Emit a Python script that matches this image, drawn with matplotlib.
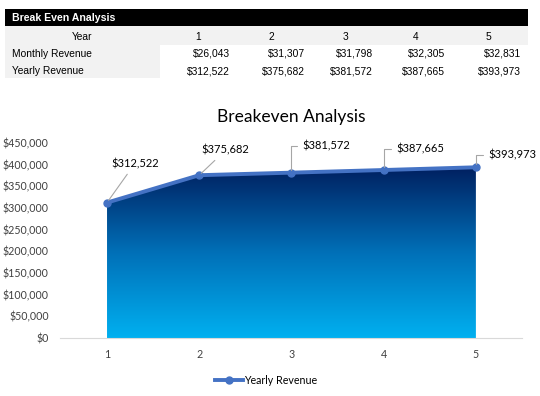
import numpy as np
import matplotlib
matplotlib.use('Agg')
import matplotlib.pyplot as plt
from matplotlib.colors import LinearSegmentedColormap
from matplotlib.patches import Rectangle
from matplotlib.ticker import FuncFormatter

years = [1, 2, 3, 4, 5]
monthly_revenue = [26043, 31307, 31798, 32305, 32831]
yearly_revenue = [312522, 375682, 381572, 387665, 393973]
row_labels = ['Year', 'Monthly Revenue', 'Yearly Revenue']

W, H = 540, 396
fig = plt.figure(figsize=(W / 100, H / 100), dpi=100)


def fx(px):
    return px / W


def fy(py):
    return 1 - py / H


# ---- table on top ----
table_font = ['Liberation Sans', 'DejaVu Sans']
tsize = 7.4
fig.patches.append(Rectangle((fx(5), fy(26)), fx(523), 17 / H, transform=fig.transFigure,
                             facecolor='black', edgecolor='none'))
fig.patches.append(Rectangle((fx(5), fy(45)), fx(523), 19 / H, transform=fig.transFigure,
                             facecolor='#f2f2f2', edgecolor='none'))
fig.patches.append(Rectangle((fx(5), fy(78)), fx(155), 33 / H, transform=fig.transFigure,
                             facecolor='#f2f2f2', edgecolor='none'))
fig.text(fx(12), fy(18), 'Break Even Analysis', color='white', fontweight='bold',
         fontsize=7.6, family=table_font, va='center', ha='left')

col_centers = [198, 271, 345, 416, 488]
col_rights = [230, 305, 373, 445, 521]
row_y = [37, 54, 71]

fig.text(fx(82), fy(row_y[0]), row_labels[0], fontsize=tsize, family=table_font, ha='center', va='center')
for lbl, y in zip(row_labels[1:], row_y[1:]):
    fig.text(fx(12), fy(y), lbl, fontsize=tsize, family=table_font, ha='left', va='center')
for i, yr in enumerate(years):
    fig.text(fx(col_centers[i]), fy(row_y[0]), str(yr), fontsize=tsize, family=table_font,
             ha='center', va='center')
    fig.text(fx(col_rights[i]), fy(row_y[1]), f'${monthly_revenue[i]:,}', fontsize=tsize,
             family=table_font, ha='right', va='center')
    fig.text(fx(col_rights[i]), fy(row_y[2]), f'${yearly_revenue[i]:,}', fontsize=tsize,
             family=table_font, ha='right', va='center')

# ---- chart ----
chart_font = ['Lato', 'DejaVu Sans']
ax = fig.add_axes([fx(60), fy(338), fx(462), 195 / H])

# gradient area
cmap = LinearSegmentedColormap.from_list('grad', ['#00b0f0', '#0070b8', '#002060'])
fill = ax.fill_between(years, 0, yearly_revenue, facecolor='none', edgecolor='none')
grad = np.linspace(0, 1, 256).reshape(-1, 1)
img = ax.imshow(grad, cmap=cmap, aspect='auto', origin='lower',
                extent=[years[0], years[-1], 0, max(yearly_revenue)], zorder=1)
img.set_clip_path(fill.get_paths()[0], transform=ax.transData)
ax.set_xlim(0.49, 5.5)
ax.set_ylim(0, 450000)

ax.plot(years, yearly_revenue, color='#4472c4', lw=2.8, marker='o', markersize=5,
        zorder=3, label='Yearly Revenue')

# data labels
offsets = [(20, 28), (19, 18), (8, 19), (9, 15), (9, 9)]
for i, (x, y) in enumerate(zip(years, yearly_revenue)):
    dx, dy = offsets[i]
    if i < 2:
        ax.annotate(f'${y:,}', xy=(x, y), xytext=(dx, dy), textcoords='offset points',
                    ha='center', va='center', fontsize=8, family=chart_font,
                    arrowprops=dict(arrowstyle='-', color='#a6a6a6', lw=0.8,
                                    shrinkA=2, shrinkB=2))
    else:
        ax.annotate(f'${y:,}', xy=(x, y), xytext=(dx, dy), textcoords='offset points',
                    ha='left', va='center', fontsize=8, family=chart_font,
                    arrowprops=dict(arrowstyle='-', color='#a6a6a6', lw=0.8,
                                    shrinkA=2, shrinkB=2,
                                    connectionstyle='angle,angleA=0,angleB=90,rad=0'))

ax.set_title('Breakeven Analysis', fontsize=12.5, family=chart_font, pad=15)
ax.set_xticks(years)
ax.set_yticks(np.arange(0, 450001, 50000))
ax.yaxis.set_major_formatter(FuncFormatter(lambda v, p: f'${v:,.0f}'))
ax.tick_params(length=0, labelsize=7.7, colors='#404040', pad=8)
for t in ax.get_xticklabels() + ax.get_yticklabels():
    t.set_family(chart_font)
for s in ['top', 'right', 'left']:
    ax.spines[s].set_visible(False)
ax.spines['bottom'].set_color('#d9d9d9')

fig.legend(loc='center', bbox_to_anchor=(fx(266), fy(380)), frameon=False,
           prop={'family': chart_font, 'size': 7.7}, handlelength=2.6, handletextpad=0.1)

fig.savefig('out.png', dpi=100)
